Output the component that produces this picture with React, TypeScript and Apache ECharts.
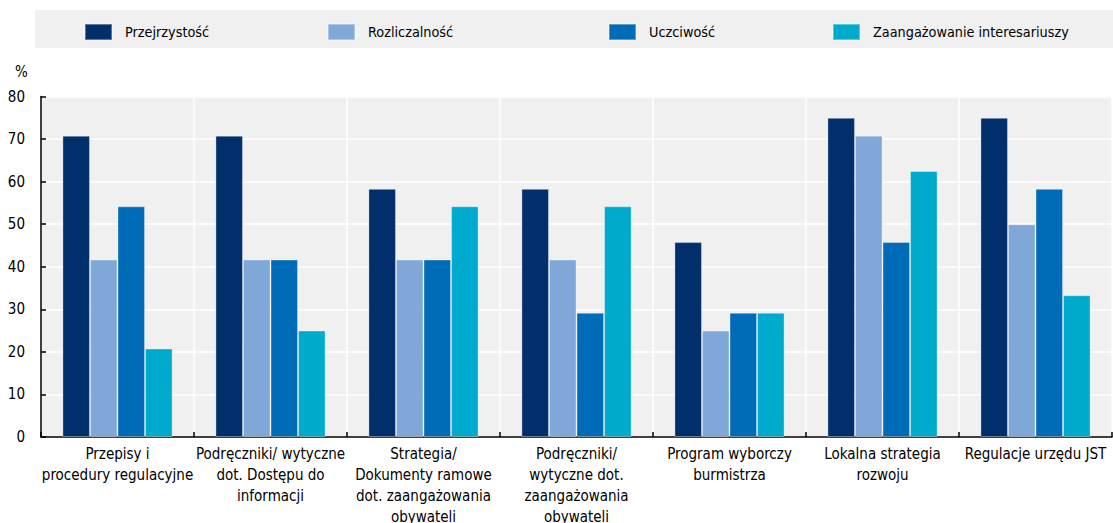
import React, { useEffect, useRef } from "react";
import * as echarts from "echarts";

const categories = [
  "Przepisy i\nprocedury regulacyjne",
  "Podręczniki/ wytyczne\ndot. Dostępu do\ninformacji",
  "Strategia/\nDokumenty ramowe\ndot. zaangażowania\nobywateli",
  "Podręczniki/\nwytyczne dot.\nzaangażowania\nobywateli",
  "Program wyborczy\nburmistrza",
  "Lokalna strategia\nrozwoju",
  "Regulacje urzędu JST",
];

const seriesNames = ["Przejrzystość", "Rozliczalność", "Uczciwość", "Zaangażowanie interesariuszy"];
const przejrzystosc = [70.8, 70.8, 58.3, 58.3, 45.8, 75.0, 75.0];
const rozliczalnosc = [41.7, 41.7, 41.7, 41.7, 25.0, 70.8, 50.0];
const uczciwosc = [54.2, 41.7, 41.7, 29.2, 29.2, 45.8, 58.3];
const zaangazowanie = [20.8, 25.0, 54.2, 54.2, 29.2, 62.5, 33.3];
const yTicks = [0, 10, 20, 30, 40, 50, 60, 70, 80];

const colors = ["#002F6C", "#7FA8D9", "#006BB6", "#00AACC"];
const legendLefts = [84, 327, 608, 832];

export default function App() {
  const ref = useRef<HTMLDivElement>(null);
  useEffect(() => {
    if (!ref.current) return;
    const chart = echarts.init(ref.current, null, { renderer: "svg" });
    const font = "'DejaVu Sans Condensed', 'Liberation Sans', sans-serif";
    const values = [przejrzystosc, rozliczalnosc, uczciwosc, zaangazowanie];
    chart.setOption({
      animation: false,
      textStyle: { fontFamily: font },
      graphic: [
        {
          type: "rect",
          shape: { x: 35, y: 10, width: 1078, height: 38 },
          style: { fill: "#F0F0F0" },
          z: -10,
        },
        {
          type: "text",
          x: 15,
          y: 64,
          style: { text: "%", fontSize: 15, fontFamily: font, fill: "#000" },
        },
      ],
      legend: seriesNames.map((n, i) => ({
        data: [n],
        left: legendLefts[i],
        top: 23,
        padding: 0,
        itemWidth: 27,
        itemHeight: 16,
        itemGap: 0,
        icon: "rect",
        textStyle: { fontSize: 14.3, color: "#000", fontFamily: font, padding: [0, 0, 0, 8] },
      })),
      grid: {
        left: 41,
        right: 1,
        top: 96.5,
        bottom: 86,
        containLabel: false,
        outerBoundsMode: "none",
        show: true,
        backgroundColor: "#F0F0F0",
        borderWidth: 0,
      },
      xAxis: {
        type: "category",
        data: categories,
        axisLine: { lineStyle: { color: "#000", width: 1.5 } },
        axisTick: { show: true, inside: true, length: 5, lineStyle: { color: "#000", width: 1.5 } },
        splitLine: { show: true, lineStyle: { color: "#FFFFFF", width: 1.5 } },
        axisLabel: {
          interval: 0,
          fontSize: 15,
          color: "#000",
          lineHeight: 21,
          margin: 6,
          fontFamily: font,
        },
      },
      yAxis: {
        type: "value",
        min: yTicks[0],
        max: yTicks[yTicks.length - 1],
        interval: 10,
        axisLine: { show: true, lineStyle: { color: "#000", width: 1.5 } },
        axisTick: { show: true, inside: true, length: 5, lineStyle: { color: "#000", width: 1.5 } },
        splitLine: { show: true, lineStyle: { color: "#FFFFFF", width: 1.5 } },
        axisLabel: { fontSize: 15, color: "#000", margin: 16, fontFamily: font },
      },
      series: seriesNames.map((n, i) => ({
        name: n,
        type: "bar",
        data: values[i],
        barGap: "0%",
        barCategoryGap: "28%",
        itemStyle: {
          color: colors[i],
          borderColor: "rgba(255,255,255,0.35)",
          borderWidth: 1,
        },
      })),
    });
    return () => chart.dispose();
  }, []);
  return (
    <div
      ref={ref}
      style={{ position: "absolute", left: 0, top: 0, width: 1113, height: 523 }}
    />
  );
}
